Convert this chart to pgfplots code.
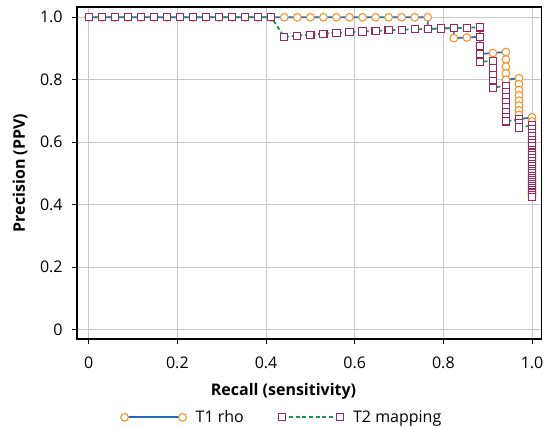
\documentclass[border=0pt]{standalone}
\usepackage{pgfplots}
\pgfplotsset{compat=1.18}
\usepackage{fontspec}
\setmainfont{Open Sans}

\definecolor{tonebl}{RGB}{30,110,180}
\definecolor{toneor}{RGB}{247,145,40}
\definecolor{ttwogr}{RGB}{20,150,80}
\definecolor{ttwopu}{RGB}{150,40,100}
\definecolor{gridgray}{RGB}{200,200,200}

\begin{document}
\begin{tikzpicture}
\useasboundingbox (-57.75pt,-66.75pt) rectangle (350.25pt,254.25pt);
\begin{axis}[
    at={(0pt,0pt)}, anchor=south west,
    scale only axis,
    width=348.4pt, height=249pt,
    xmin=-0.0264, xmax=1.0214,
    ymin=-0.030, ymax=1.033,
    xtick={0,0.2,0.4,0.6,0.8,1},
    xticklabels={0,0.2,0.4,0.6,0.8,1.0},
    ytick={0,0.2,0.4,0.6,0.8,1},
    yticklabels={0,0.2,0.4,0.6,0.8,1.0},
    tick pos=left,
    tick align=outside,
    major tick length=3.75pt,
    tick style={black, line width=0.8pt},
    axis line style={black, line width=0.8pt},
    grid=major,
    major grid style={gridgray, line width=0.75pt},
    font=\fontsize{12pt}{14pt}\selectfont,
    /pgf/number format/assume math mode=true,
    xticklabel style={yshift=-6pt},
    yticklabel style={xshift=-3.5pt},
    xlabel={\textbf{Recall (sensitivity)}},
    ylabel={\textbf{Precision (PPV)}},
    xlabel style={at={(axis description cs:0.4446,-0.158)}, anchor=center},
    ylabel style={at={(axis description cs:-0.1227,0.5)}, anchor=center},
    legend columns=2,
    legend style={at={(axis description cs:0.442,-0.236)}, anchor=center,
        draw=none, fill=none, font=\fontsize{12pt}{14pt}\selectfont,
        /tikz/every odd column/.append style={column sep=5pt},
        /tikz/every even column/.append style={column sep=24pt}},
    legend image code/.code={\draw[mark repeat=2,mark phase=1,#1] plot coordinates {(0pt,0pt) (21.75pt,0pt) (43.5pt,0pt)};},
]
% T1 rho
\addplot[tonebl, line width=1.3pt, mark=*, mark size=2.9pt,
    mark options={draw=toneor, fill=white, line width=0.8pt, solid}]
coordinates {
(0.00000,1) (0.02941,1) (0.05882,1) (0.08824,1) (0.11765,1) (0.14706,1)
(0.17647,1) (0.20588,1) (0.23529,1) (0.26471,1) (0.29412,1) (0.32353,1)
(0.35294,1) (0.38235,1) (0.41176,1) (0.44118,1) (0.47059,1) (0.50000,1)
(0.52941,1) (0.55882,1) (0.58824,1) (0.61765,1) (0.64706,1) (0.67647,1)
(0.70588,1) (0.73529,1) (0.76471,1)
(0.76471,0.9630)
(0.79412,0.9643)
(0.82353,0.9655) (0.82353,0.9333)
(0.85294,0.9355)
(0.88235,0.9375) (0.88235,0.9091) (0.88235,0.8824)
(0.91176,0.8857)
(0.94118,0.8889) (0.94118,0.8649) (0.94118,0.8421) (0.94118,0.8205) (0.94118,0.8000)
(0.97059,0.8049) (0.97059,0.7857) (0.97059,0.7674) (0.97059,0.7500) (0.97059,0.7333)
(0.97059,0.7174) (0.97059,0.7021) (0.97059,0.6875) (0.97059,0.6735)
(1,0.6800) (1,0.6667) (1,0.6538) (1,0.6415) (1,0.6296) (1,0.6182) (1,0.6071)
(1,0.5965) (1,0.5862) (1,0.5763) (1,0.5667) (1,0.5574) (1,0.5484) (1,0.5397)
(1,0.5313) (1,0.5231) (1,0.5152) (1,0.5075) (1,0.5000) (1,0.4928) (1,0.4857)
(1,0.4789) (1,0.4722) (1,0.4658) (1,0.4595) (1,0.4533) (1,0.4474) (1,0.4416)
(1,0.4359) (1,0.4304) (1,0.4250)
};
\addlegendentry{T1 rho}
% T2 mapping
\addplot[ttwogr, line width=1.3pt, dash pattern=on 3pt off 2pt, mark=square*, mark size=2.7pt,
    mark options={draw=ttwopu, fill=white, line width=0.8pt, solid}]
coordinates {
(0.00000,1) (0.02941,1) (0.05882,1) (0.08824,1) (0.11765,1) (0.14706,1)
(0.17647,1) (0.20588,1) (0.23529,1) (0.26471,1) (0.29412,1) (0.32353,1)
(0.35294,1) (0.38235,1) (0.41176,1)
(0.44118,0.9375) (0.47059,0.9412) (0.50000,0.9444) (0.52941,0.9474)
(0.55882,0.9500) (0.58824,0.9524) (0.61765,0.9545) (0.64706,0.9565)
(0.67647,0.9583) (0.70588,0.9600) (0.73529,0.9615) (0.76471,0.9630)
(0.79412,0.9643) (0.82353,0.9655) (0.85294,0.9667)
(0.88235,0.9677) (0.88235,0.9375) (0.88235,0.9091) (0.88235,0.8824) (0.88235,0.8571)
(0.91176,0.8611) (0.91176,0.8378) (0.91176,0.8158) (0.91176,0.7949) (0.91176,0.7750)
(0.94118,0.7805) (0.94118,0.7619) (0.94118,0.7442) (0.94118,0.7273) (0.94118,0.7111)
(0.94118,0.6957) (0.94118,0.6809) (0.94118,0.6667)
(0.97059,0.6735) (0.97059,0.6600) (0.97059,0.6471)
(1,0.6538) (1,0.6415) (1,0.6296) (1,0.6182) (1,0.6071)
(1,0.5965) (1,0.5862) (1,0.5763) (1,0.5667) (1,0.5574) (1,0.5484) (1,0.5397)
(1,0.5313) (1,0.5231) (1,0.5152) (1,0.5075) (1,0.5000) (1,0.4928) (1,0.4857)
(1,0.4789) (1,0.4722) (1,0.4658) (1,0.4595) (1,0.4533) (1,0.4474) (1,0.4416)
(1,0.4359) (1,0.4304) (1,0.4250)
};
\addlegendentry{T2 mapping}
\end{axis}
\end{tikzpicture}
\end{document}
